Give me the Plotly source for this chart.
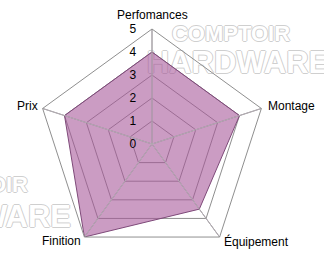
import plotly.graph_objects as go

# Review scores for each criterion (scale 0-5)
criteria = ["Perfomances", "Montage", "Équipement", "Finition", "Prix"]
scores = [4, 4, 3.5, 5, 4]
radial_ticks = [0, 1, 2, 3, 4, 5]

# Watermark lines
wm_line1 = "COMPTOIR"
wm_line2 = "HARDWARE"

W, H = 324, 261
FILL = "rgba(165, 85, 152, 0.58)"
EDGE = "#7e4a79"
GRID = "#8f8f8f"
SPOKE = "#b4adb4"
LABEL_FONT = dict(family="Liberation Sans, Arial, sans-serif", size=12, color="#000000")


def px_x(px):
    return px / W


def px_y(py):
    return 1 - py / H


fig = go.Figure()

# Outlined watermark text, drawn underneath the polar chart
outline = "1px 0 #cfcfcf, -1px 0 #cfcfcf, 0 1px #cfcfcf, 0 -1px #cfcfcf"
wm_family = "Liberation Sans, Arial, sans-serif"
wm_font_small = dict(family=wm_family, size=22, weight="bold", color="#ffffff", shadow=outline)
wm_font_big = dict(family=wm_family, size=31, weight="bold", color="#ffffff", shadow=outline)
# upper-right copy
fig.add_trace(go.Scatter(x=[px_x(231)], y=[px_y(35)], mode="text",
                         text=[wm_line1], textposition="middle center",
                         textfont=wm_font_small, cliponaxis=False,
                         hoverinfo="skip", showlegend=False))
fig.add_trace(go.Scatter(x=[px_x(238)], y=[px_y(65)], mode="text",
                         text=[wm_line2], textposition="middle center",
                         textfont=wm_font_big, cliponaxis=False,
                         hoverinfo="skip", showlegend=False))
# left copy, running off the page edge
fig.add_trace(go.Scatter(x=[px_x(28)], y=[px_y(186)], mode="text",
                         text=[wm_line1], textposition="middle left",
                         textfont=wm_font_small, cliponaxis=False,
                         hoverinfo="skip", showlegend=False))
fig.add_trace(go.Scatter(x=[px_x(71)], y=[px_y(219)], mode="text",
                         text=[wm_line2], textposition="middle left",
                         textfont=wm_font_big, cliponaxis=False,
                         hoverinfo="skip", showlegend=False))

# Score polygon
fig.add_trace(go.Scatterpolar(
    r=scores + scores[:1], theta=criteria + criteria[:1],
    mode="lines", fill="toself", fillcolor=FILL,
    line=dict(color=EDGE, width=1), hoverinfo="skip", showlegend=False))

# Spokes drawn on top of the filled area
for c in criteria:
    fig.add_trace(go.Scatterpolar(
        r=[radial_ticks[0], radial_ticks[-1]], theta=[c, c], mode="lines",
        line=dict(color=SPOKE, width=1), hoverinfo="skip", showlegend=False))

# Criterion names placed around the pentagon
label_pos = {
    "Perfomances": (152.5, 15, "center"),
    "Montage": (266, 106, "left"),
    "Équipement": (222, 241, "left"),
    "Finition": (61, 241, "center"),
    "Prix": (40, 106, "right"),
}
for name in criteria:
    lx, ly, anchor = label_pos[name]
    fig.add_annotation(x=lx / W, y=1 - ly / H, xref="paper", yref="paper",
                       text=name, showarrow=False, xanchor=anchor, yanchor="middle",
                       font=LABEL_FONT)

fig.update_layout(
    width=W, height=H, autosize=False,
    margin=dict(l=0, r=0, t=0, b=0),
    paper_bgcolor="white", plot_bgcolor="rgba(0,0,0,0)",
    xaxis=dict(visible=False, range=[0, 1], domain=[0, 1], fixedrange=True),
    yaxis=dict(visible=False, range=[0, 1], domain=[0, 1], fixedrange=True),
    polar=dict(
        domain=dict(x=[37 / W, 267 / W], y=[2 / H, 232 / H]),
        bgcolor="rgba(0,0,0,0)",
        gridshape="linear",
        radialaxis=dict(
            range=[radial_ticks[0], radial_ticks[-1]], tickvals=radial_ticks,
            angle=90, tickangle=90, side="counterclockwise",
            showline=False, ticks="outside", ticklen=11, tickcolor="rgba(0,0,0,0)",
            gridcolor=GRID, gridwidth=1, tickfont=LABEL_FONT),
        angularaxis=dict(
            direction="clockwise", rotation=90,
            showline=True, linecolor=GRID, linewidth=1,
            gridcolor=GRID, ticks="", showticklabels=False),
    ),
)

fig.write_html("out.html")
